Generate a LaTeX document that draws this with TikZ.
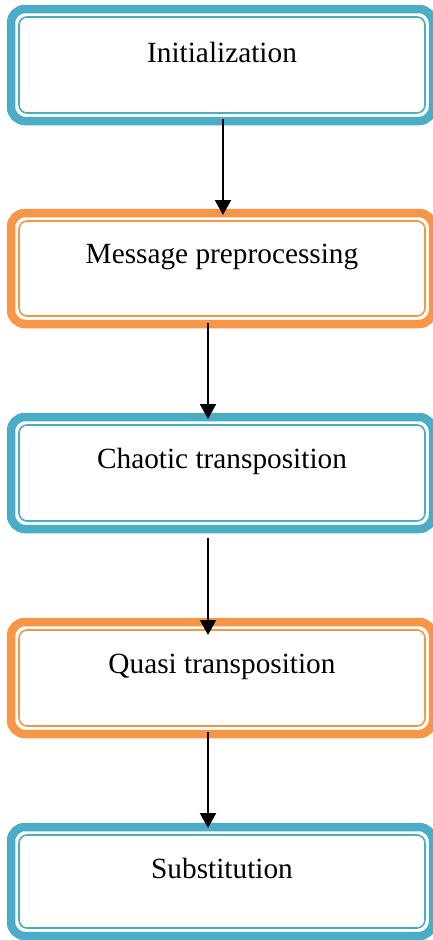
\documentclass[tikz,border=0pt]{standalone}
\usepackage{fontspec}
\setmainfont{Liberation Serif}
\usetikzlibrary{arrows.meta}
\definecolor{cblue}{HTML}{4BACC6}
\definecolor{corange}{HTML}{F79646}
\tikzset{
  outerbox/.style={draw=#1, line width=8.5pt, rounded corners=14pt, rectangle,
    minimum width=422pt, inner sep=0pt, outer sep=0pt, fill=white},
  innerline/.style={draw=#1, line width=1.6pt, rounded corners=8pt},
  label text/.style={font=\fontsize{29.3}{35}\selectfont, anchor=base, inner sep=0pt},
  arr/.style={line width=2.2pt, -{Triangle[length=15pt,width=16pt]}}
}
\newcommand\flowbox[6]{% name, color, x, ytop, ybottom, baseline
  \node[outerbox=#2, minimum height={#5-#4}] (#1) at (222pt,{-(#4+#5)/2}) {};
  \draw[innerline=#2] ([shift={(8pt,-8pt)}]#1.north west) rectangle ([shift={(-8pt,8pt)}]#1.south east);
}
\begin{document}
\begin{tikzpicture}[x=1pt,y=1pt]
\useasboundingbox (0,0) rectangle (432,-940);
\flowbox{b1}{cblue}{}{9}{121}{}
\flowbox{b2}{corange}{}{213}{324}{}
\flowbox{b3}{cblue}{}{417}{529}{}
\flowbox{b4}{corange}{}{622}{734}{}
\flowbox{b5}{cblue}{}{827}{936}{}
\node[label text] (t1) at (222,-62) {Initialization};
\node[label text] (t2) at (222,-263) {Message preprocessing};
\node[label text] (t3) at (222,-468) {Chaotic transposition};
\node[label text] (t4) at (222,-673) {Quasi transposition};
\node[label text] (t5) at (222,-878) {Substitution};
\draw[arr] ([xshift=1pt,yshift=2pt]b1.south) -- ([xshift=1pt,yshift=-2pt]b2.north);
\draw[arr] ([xshift=-14pt,yshift=1pt]b2.south) -- ([xshift=-14pt,yshift=-2pt]b3.north);
\draw[arr] ([xshift=-14pt,yshift=-9pt]b3.south) -- ([xshift=-14pt,yshift=-13pt]b4.north);
\draw[arr] ([xshift=-14pt,yshift=2pt]b4.south) -- ([xshift=-14pt,yshift=-1pt]b5.north);
\end{tikzpicture}
\end{document}
